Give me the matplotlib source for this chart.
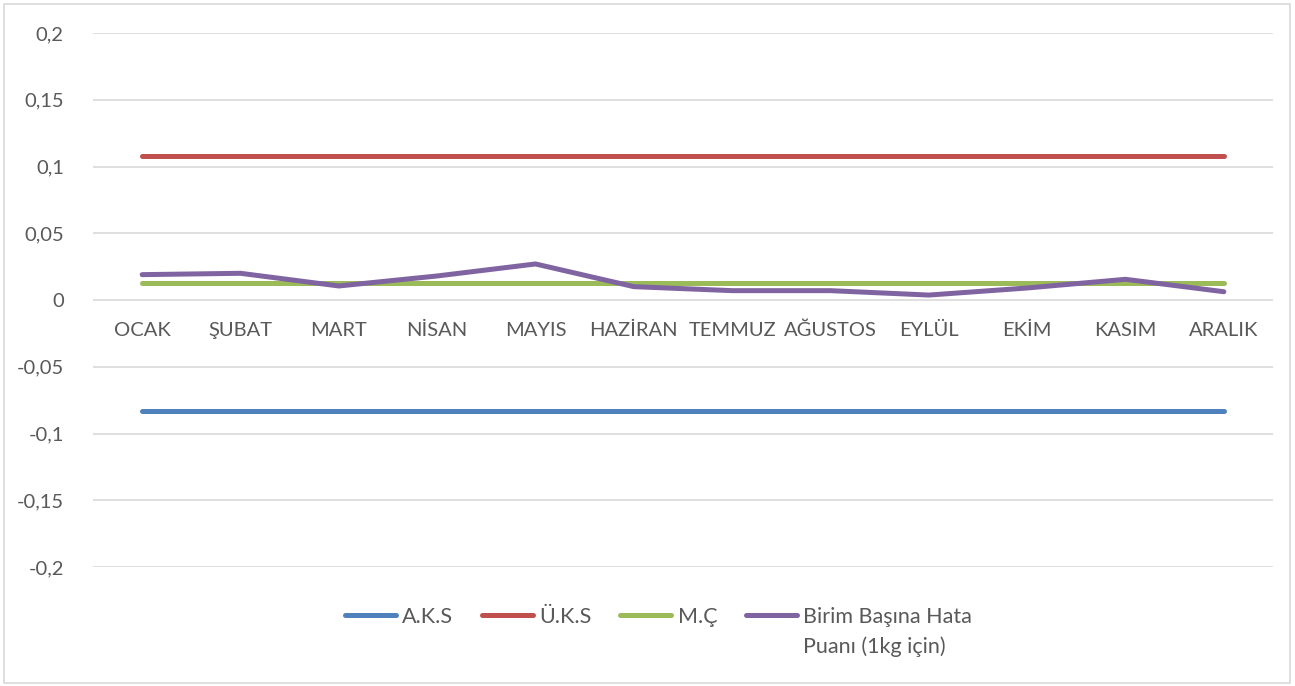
import matplotlib
matplotlib.use("Agg")
import matplotlib.pyplot as plt
from matplotlib.patches import Rectangle

months = ["OCAK", "ŞUBAT", "MART", "NİSAN", "MAYIS", "HAZİRAN",
          "TEMMUZ", "AĞUSTOS", "EYLÜL", "EKİM", "KASIM", "ARALIK"]
aks = [-0.083] * 12
uks = [0.108] * 12
mc = [0.0125] * 12
hata = [0.019, 0.020, 0.0105, 0.018, 0.027, 0.010,
        0.007, 0.007, 0.0037, 0.009, 0.0155, 0.0062]
yticks = [0.2, 0.15, 0.1, 0.05, 0.0, -0.05, -0.1, -0.15, -0.2]
ytick_labels = ["0,2", "0,15", "0,1", "0,05", "0", "-0,05", "-0,1", "-0,15", "-0,2"]

plt.rcParams["font.family"] = ["Lato", "DejaVu Sans"]
text_color = "#595959"

W, H = 1295, 686
fig = plt.figure(figsize=(W / 100, H / 100), dpi=100)
ax = fig.add_axes([93 / W, 1 - 567 / H, (1273 - 93) / W, (567 - 33) / H])

x = list(range(len(months)))
series = [
    (aks, "#4f81bd", "A.K.S"),
    (uks, "#c0504d", "Ü.K.S"),
    (mc, "#9bbb59", "M.Ç"),
    (hata, "#8064a2", "Birim Başına Hata"),
]
handles = []
for vals, col, lab in series:
    h, = ax.plot(x, vals, color=col, lw=3.6, solid_capstyle="round",
                 solid_joinstyle="round", label=lab, zorder=3)
    handles.append(h)

ax.set_xlim(-0.5, 11.5)
ax.set_ylim(-0.2, 0.2)
ax.set_yticks(yticks)
ax.set_yticklabels(ytick_labels)
ax.yaxis.grid(True, color="#d9d9d9", lw=1.2)
ax.set_axisbelow(True)
for s in ax.spines.values():
    s.set_visible(False)
ax.tick_params(axis="y", length=0, pad=21, labelsize=14.5, labelcolor=text_color)

# month labels sit just under the zero line
ax.set_xticks([])
for xi, m in zip(x, months):
    ax.text(xi, -0.0225, m, ha="center", va="center", fontsize=14.5,
            color=text_color)

leg_fs = 15.5
leg = fig.legend(handles=handles, loc="center left",
                 bbox_to_anchor=(345 / W, 1 - 617 / H), ncol=4, frameon=False,
                 fontsize=leg_fs, handlelength=2.35, handletextpad=0.3,
                 columnspacing=1.35, labelcolor=text_color,
                 borderpad=0, borderaxespad=0)

fig.canvas.draw()
last = leg.get_texts()[-1]
bb = last.get_window_extent()
yc = (bb.y0 + bb.y1) / 2 - 30
fig.text(bb.x0 / W, yc / H, "Puanı (1kg için)", fontsize=leg_fs,
         color=text_color, ha="left", va="center")

fig.patches.append(Rectangle((4 / W, 3 / H), (1290 - 4) / W, (683 - 4) / H,
                             transform=fig.transFigure, fill=False,
                             edgecolor="#d9d9d9", lw=1.2))

fig.savefig("out.png", dpi=100, facecolor="white")
